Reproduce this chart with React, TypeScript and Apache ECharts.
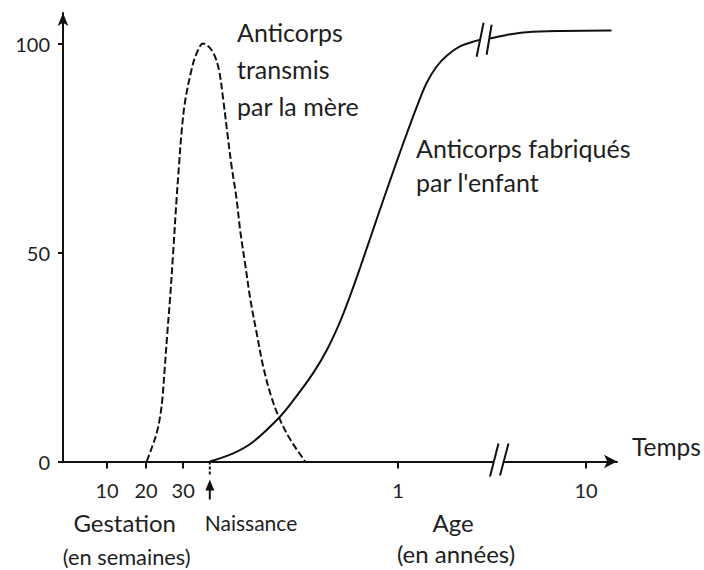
import React, { useEffect, useRef } from "react";
import * as echarts from "echarts";

// x: relative position along the time axis (0..100), y: antibody level (%)
const maternalX = [15.1, 15.88, 16.91, 17.51, 17.92, 18.38, 18.83, 19.3, 19.89, 20.49, 20.92, 21.39, 22.02, 23.23, 24.1, 25.3, 26.84, 28.03, 28.93, 29.66, 30.45, 31.28, 32.04, 32.96, 33.84, 34.96, 36.16, 37.67, 39.17, 41.0, 43.4, 43.7];
const maternalY = [0, 2.75, 6.8, 10.6, 14.7, 22.6, 30.7, 38.6, 50.1, 62.6, 70.5, 78.6, 86.0, 93.9, 97.6, 100, 98.4, 94.4, 86.5, 78.6, 70.5, 63.3, 54.7, 46.5, 38.6, 30.7, 22.6, 15.2, 10.0, 5.3, 0.6, 0];

const childX1 = [26.5, 30.74, 34.35, 39.17, 41.57, 45.18, 47.6, 50.0, 51.81, 53.61, 55.42, 57.22, 59.03, 60.52, 62.04, 63.84, 65.65, 67.45, 69.26, 71.66, 74.68, 75.4];
const childY1 = [0, 1.96, 4.74, 10.72, 14.6, 21.2, 26.6, 33.4, 39.6, 46.3, 53.3, 60.3, 67.2, 72.8, 78.4, 84.8, 90.6, 94.5, 97.1, 99.3, 100.7, 100.9];
const childX2 = [77.1, 77.7, 79.9, 83.7, 90.0, 99.0];
const childY2 = [101.2, 101.4, 102.0, 102.7, 103.0, 103.1];

const xTickPos = [7.94, 15.0, 21.7, 60.5, 94.4];
const xTickLabels = ["10", "20", "30", "1", "10"];
const yTicks = [0, 50, 100];
const birthX = 26.5;
const axisBreakX = 78.7;
const curveBreak = [76.1, 100.9];

const FONT = "Lato";
const INK = "#111";
const TXT = "#1e1e1e";

const zip = (xs: number[], ys: number[]) => xs.map((x, i) => [x, ys[i]]);

export default function App() {
  const ref = useRef<HTMLDivElement>(null);
  useEffect(() => {
    if (!ref.current) return;
    const chart = echarts.init(ref.current, null, { renderer: "svg" });
    chart.setOption({
      animation: false,
      backgroundColor: "#fff",
      grid: { left: 63, right: 87, top: 13, bottom: 108.5, containLabel: false },
      xAxis: {
        type: "value",
        min: 0,
        max: 100,
        splitLine: { show: false },
        axisLine: {
          show: true,
          symbol: ["none", "arrow"],
          symbolSize: [10, 13],
          lineStyle: { color: INK, width: 2 },
        },
        axisTick: { show: true, customValues: xTickPos, length: 7, lineStyle: { color: INK, width: 2 } },
        axisLabel: {
          customValues: xTickPos,
          margin: 18,
          fontFamily: FONT,
          fontSize: 20,
          color: TXT,
          formatter: (v: number) => {
            let best = 0;
            xTickPos.forEach((p, i) => {
              if (Math.abs(p - v) < Math.abs(xTickPos[best] - v)) best = i;
            });
            return xTickLabels[best];
          },
        },
      },
      yAxis: {
        type: "value",
        min: 0,
        max: 107.3,
        splitLine: { show: false },
        axisLine: {
          show: true,
          symbol: ["none", "arrow"],
          symbolSize: [8, 13],
          lineStyle: { color: INK, width: 2 },
        },
        axisTick: { show: true, customValues: yTicks, length: 5, lineStyle: { color: INK, width: 2 } },
        axisLabel: { customValues: yTicks, margin: 13, fontFamily: FONT, fontSize: 20, color: TXT },
      },
      series: [
        {
          type: "line",
          data: zip(maternalX, maternalY),
          symbol: "none",
          smooth: 0.35,
          lineStyle: { color: INK, width: 2, type: [7, 3] },
        },
        {
          type: "line",
          data: zip(childX1, childY1),
          symbol: "none",
          smooth: 0.35,
          lineStyle: { color: INK, width: 2 },
        },
        {
          type: "line",
          data: zip(childX2, childY2),
          symbol: "none",
          smooth: 0.35,
          lineStyle: { color: INK, width: 2 },
        },
      ],
    });

    const px = (x: number, y: number) => chart.convertToPixel({ gridIndex: 0 }, [x, y]) as number[];
    const [bx, y0] = px(birthX, 0);
    const [ax] = px(axisBreakX, 0);
    const [cx, cy] = px(curveBreak[0], curveBreak[1]);
    const ln = (x1: number, y1: number, x2: number, y2: number, extra: any = {}) => ({
      type: "line",
      shape: { x1, y1, x2, y2 },
      style: { stroke: INK, lineWidth: 2, ...extra },
      z: 100,
    });
    const txt = (text: string, x: number, y: number, size: number, align = "left") => ({
      type: "text",
      x,
      y,
      z: 100,
      style: {
        text,
        fontFamily: FONT,
        fontSize: size,
        fill: TXT,
        textAlign: align,
        textVerticalAlign: "middle",
      },
    });

    chart.setOption({
      graphic: [
        // birth marker
        ln(bx, y0, bx, y0 + 14, { lineDash: [3, 2] }),
        { type: "polygon", z: 100, shape: { points: [[bx, y0 + 18], [bx - 4.5, y0 + 29], [bx + 4.5, y0 + 29]] }, style: { fill: INK } },
        ln(bx, y0 + 27, bx, y0 + 38),
        // axis break
        { type: "rect", z: 99, shape: { x: ax - 5, y: y0 - 3, width: 10, height: 6 }, style: { fill: "#fff" } },
        ln(ax - 0.5, y0 - 18, ax - 9, y0 + 15),
        ln(ax + 9.5, y0 - 18, ax + 1, y0 + 14),
        // curve break
        { type: "rect", z: 99, shape: { x: cx - 3, y: cy - 4, width: 6, height: 8 }, style: { fill: "#fff" } },
        ln(cx - 1, cy - 17, cx - 8, cy + 17),
        ln(cx + 7, cy - 15, cx + 2, cy + 15),
        // annotations
        txt("Anticorps", 237, 32, 25),
        txt("transmis", 237, 68.5, 25),
        txt("par la mère", 237, 105.5, 25),
        txt("Anticorps fabriqués", 416, 148, 25),
        txt("par l'enfant", 416, 182, 25),
        txt("Temps", 632, 446, 24.5),
        txt("Gestation", 124.7, 522.5, 24, "center"),
        txt("(en semaines)", 126.7, 556, 21.8, "center"),
        txt("Naissance", 251, 522, 21, "center"),
        txt("Age", 453, 522.5, 24, "center"),
        txt("(en années)", 456, 553, 24, "center"),
      ],
    });

    return () => chart.dispose();
  }, []);
  return <div ref={ref} style={{ position: "absolute", left: 0, top: 0, width: 704, height: 570 }} />;
}
